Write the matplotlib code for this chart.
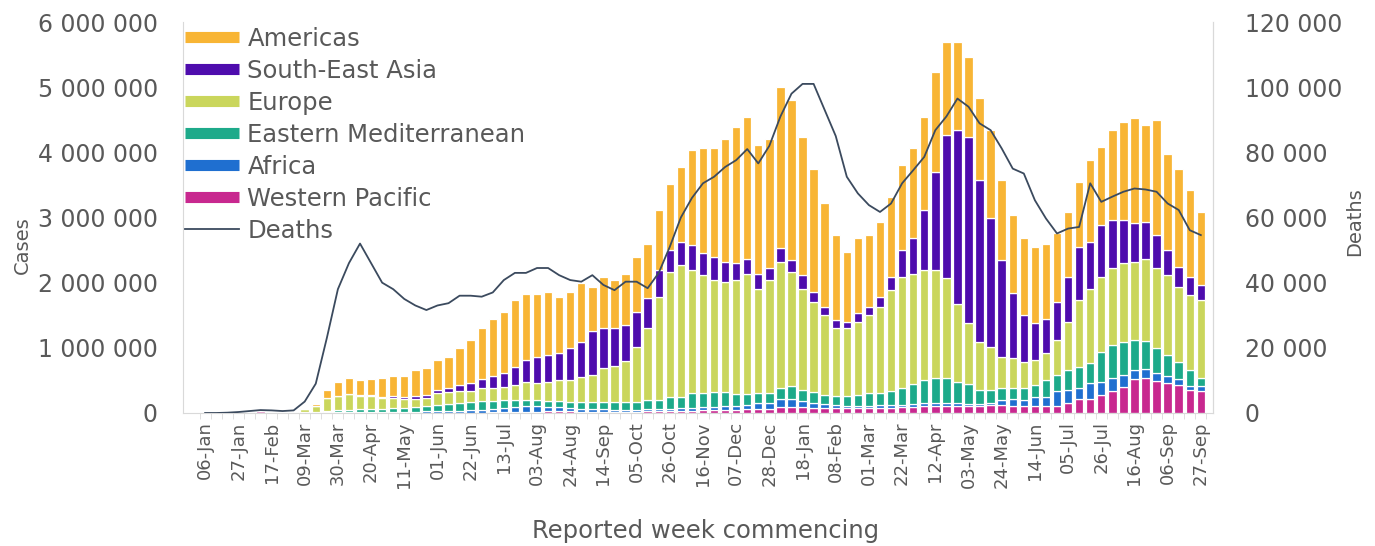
import matplotlib
matplotlib.use("Agg")
import matplotlib.pyplot as plt
from matplotlib.lines import Line2D
from matplotlib.ticker import FuncFormatter, FixedLocator
import numpy as np
import datetime as dt

plt.rcParams['font.family'] = ['DejaVu Sans']

# ---- data (thousands of cases / deaths per reported week) ----
start = dt.date(2020, 1, 6)
weeks = [(start + dt.timedelta(days=7 * i)).strftime('%d-%b') for i in range(91)]

western_pacific = [0.1, 0.3, 2, 12, 22, 30, 10, 5, 4, 5, 6, 15, 15, 18, 15, 12, 8, 7, 6, 6,
                   6, 5, 5, 5, 6, 7, 8, 10, 12, 15, 20, 25, 28, 25, 22, 22, 22, 22, 22, 22,
                   25, 25, 25, 30, 35, 40, 40, 45, 50, 55, 60, 60, 87, 90, 85, 80, 75, 70, 70, 70,
                   70, 75, 80, 85, 95, 110, 115, 115, 110, 105, 110, 120, 120, 110, 110, 110, 110, 110, 150, 210,
                   220, 280, 340, 400, 520, 530, 490, 460, 430, 350, 330]
africa = [0, 0, 0, 0, 0, 0, 0, 0, 0, 0.1, 0.5, 1, 3, 4, 5, 6, 8, 10, 12, 15,
          18, 20, 25, 30, 38, 45, 55, 70, 80, 85, 80, 70, 60, 50, 45, 40, 35, 30, 28, 28,
          30, 32, 35, 40, 45, 50, 55, 60, 60, 70, 90, 100, 123, 120, 100, 80, 60, 50, 45, 45,
          45, 45, 45, 45, 45, 45, 40, 40, 40, 35, 35, 35, 80, 100, 90, 130, 140, 220, 200, 170,
          240, 200, 190, 180, 140, 140, 130, 110, 90, 70, 80]
eastern_mediterranean = [0, 0, 0, 0, 0, 0, 0, 1, 8, 12, 15, 20, 30, 30, 35, 40, 45, 55, 60, 70,
                         85, 95, 105, 120, 125, 125, 125, 115, 110, 105, 100, 95, 95, 95, 95, 100, 105, 110, 115, 120,
                         140, 150, 180, 180, 220, 220, 225, 215, 180, 165, 160, 150, 180, 200, 175, 160, 145, 140, 145, 165,
                         195, 190, 215, 260, 300, 345, 375, 375, 330, 300, 215, 205, 180, 170, 180, 190, 260, 250, 310, 330,
                         300, 460, 510, 510, 460, 440, 370, 320, 270, 240, 120]
europe = [0, 0, 0, 0, 0, 0, 0, 1.5, 12, 45, 90, 195, 210, 235, 210, 210, 170, 160, 135, 125,
          120, 180, 185, 175, 170, 200, 195, 205, 230, 265, 260, 290, 325, 340, 390, 420, 530, 560, 630, 850,
          1105, 1575, 1930, 2020, 1890, 1810, 1720, 1690, 1750, 1850, 1600, 1730, 1930, 1760, 1550, 1390, 1220, 1040, 1040, 1120,
          1190, 1320, 1550, 1700, 1700, 1690, 1660, 1540, 1200, 940, 730, 660, 480, 460, 410, 380, 410, 540, 740, 1020,
          1150, 1150, 1180, 1210, 1200, 1260, 1230, 1230, 1150, 1150, 1200]
south_east_asia = [0, 0, 0, 0, 0, 0, 0, 0, 0, 0.2, 0.5, 2, 5, 8, 12, 15, 20, 25, 30, 40,
                   50, 55, 65, 100, 120, 150, 190, 220, 280, 340, 400, 410, 420, 480, 530, 670, 610, 590, 560, 530,
                   460, 410, 330, 360, 390, 330, 360, 310, 260, 230, 230, 180, 210, 180, 210, 150, 130, 130, 100, 130,
                   130, 150, 200, 410, 540, 920, 1510, 2190, 2660, 2860, 2480, 1970, 1490, 1000, 710, 570, 530, 590, 690, 820,
                   720, 790, 740, 660, 590, 560, 510, 380, 300, 280, 230]
americas = [0, 0, 0, 0, 0, 0, 0, 0.1, 0.5, 5, 20, 125, 215, 235, 230, 245, 280, 310, 330, 400,
            410, 460, 480, 560, 660, 775, 867, 930, 1018, 1010, 960, 960, 852, 870, 908, 688, 788, 728, 785, 850,
            840, 918, 1020, 1150, 1450, 1620, 1670, 1890, 2090, 2170, 1970, 1990, 2470, 2450, 2120, 1890, 1590, 1300, 1070, 1150,
            1100, 1150, 1230, 1300, 1380, 1430, 1540, 1440, 1360, 1230, 1260, 1350, 1220, 1200, 1180, 1170, 1150, 1050, 1000, 1000,
            1250, 1200, 1380, 1510, 1610, 1490, 1760, 1480, 1510, 1330, 1130]
deaths = [0, 0, 0.1, 0.3, 0.6, 0.9, 0.8, 0.6, 0.8, 3.5, 9, 23, 38, 46, 52, 46, 40, 38, 35, 33,
          31.6, 33, 33.7, 36, 36, 35.7, 37, 40.8, 43, 43, 44.5, 44.5, 42.3, 40.8, 40.3, 42.3, 39.3, 37.7, 40.3, 40.3,
          38.3, 43, 51, 60, 66, 70.5, 72.5, 75.5, 77.6, 81, 76.6, 82, 91, 98, 101, 101, 93, 85, 72.5, 67.4,
          63.8, 61.7, 64.3, 70.5, 74.5, 78.6, 86.8, 91, 96.5, 94, 88.9, 86.8, 81.2, 75, 73.5, 65.3, 59.7, 55.1, 56.6, 57.1,
          70.5, 64.8, 66.4, 67.9, 68.9, 68.6, 67.9, 64.3, 62.3, 56.1, 54.6]

series = [
    ("Western Pacific", western_pacific, "#C8288F"),
    ("Africa", africa, "#1F6FD0"),
    ("Eastern Mediterranean", eastern_mediterranean, "#1DAA8A"),
    ("Europe", europe, "#CAD65C"),
    ("South-East Asia", south_east_asia, "#4E0CAD"),
    ("Americas", americas, "#F8B535"),
]
for _, s, _ in series:
    assert len(s) == len(weeks), len(s)
assert len(deaths) == len(weeks)

GREY = "#595959"
LINE = "#3B4A5E"
fig = plt.figure(figsize=(13.75, 5.46), dpi=100)
ax = fig.add_axes([183 / 1375, 133 / 546, 1030 / 1375, 391 / 546])

x = np.arange(len(weeks))
bottom = np.zeros(len(weeks))
for name, vals, col in series:
    v = np.array(vals, dtype=float) * 1000
    ax.bar(x, v, bottom=bottom, width=0.76, color=col, edgecolor="white", linewidth=0.9, zorder=2)
    bottom += v

ax.set_xlim(-2.0, 91.1)
ax.set_ylim(0, 6_000_000)
ax.yaxis.set_major_locator(FixedLocator(np.arange(0, 6_000_001, 1_000_000)))
fmt = FuncFormatter(lambda v, p: f"{int(v):,}".replace(",", " "))
ax.yaxis.set_major_formatter(fmt)
ax.set_xticks(x[::3])
ax.set_xticklabels(weeks[::3], rotation=90)
ax.set_xticks(np.arange(-0.5, len(weeks), 1), minor=True)
ax.tick_params(axis='x', which='major', length=0, pad=6, labelsize=13, labelcolor=GREY)
ax.tick_params(axis='x', which='minor', length=4, color="#D9D9D9")
ax.tick_params(axis='y', length=0, pad=18, labelsize=17, labelcolor=GREY)
ax.spines["top"].set_visible(False)
for sp in ["left", "right", "bottom"]:
    ax.spines[sp].set_color("#D9D9D9")
ax.set_ylabel("Cases", fontsize=14, color=GREY)
ax.yaxis.set_label_coords(-0.147, 0.43)
ax.set_xlabel("Reported week commencing", fontsize=17.5, color=GREY)
ax.xaxis.set_label_coords(0.507, -0.272)

ax2 = ax.twinx()
ax2.plot(x, np.array(deaths) * 1000, color=LINE, linewidth=1.3, zorder=3)
ax2.set_ylim(0, 120_000)
ax2.yaxis.set_major_locator(FixedLocator(np.arange(0, 120_001, 20_000)))
ax2.yaxis.set_major_formatter(fmt)
ax2.tick_params(axis='y', length=0, pad=23, labelsize=17, labelcolor=GREY)
for sp in ["top", "left", "bottom"]:
    ax2.spines[sp].set_visible(False)
ax2.spines["right"].set_color("#D9D9D9")
ax2.set_ylabel("Deaths", fontsize=14, color=GREY)
ax2.yaxis.set_label_coords(1.128, 0.49)

handles = [Line2D([0], [0], color=c, lw=8, solid_capstyle='butt') for _, _, c in series[::-1]]
labels = [n for n, _, _ in series[::-1]]
handles.append(Line2D([0], [0], color=LINE, lw=1.3))
labels.append("Deaths")
leg = ax2.legend(handles, labels, loc="upper left", bbox_to_anchor=(175 / 1375, 1 - 17 / 546),
                 bbox_transform=fig.transFigure, frameon=False, borderaxespad=0,
                 fontsize=17.5, handlelength=2.25, handletextpad=0.33, labelspacing=0.33)
for t in leg.get_texts():
    t.set_color(GREY)

fig.savefig("out.png", dpi=100)
